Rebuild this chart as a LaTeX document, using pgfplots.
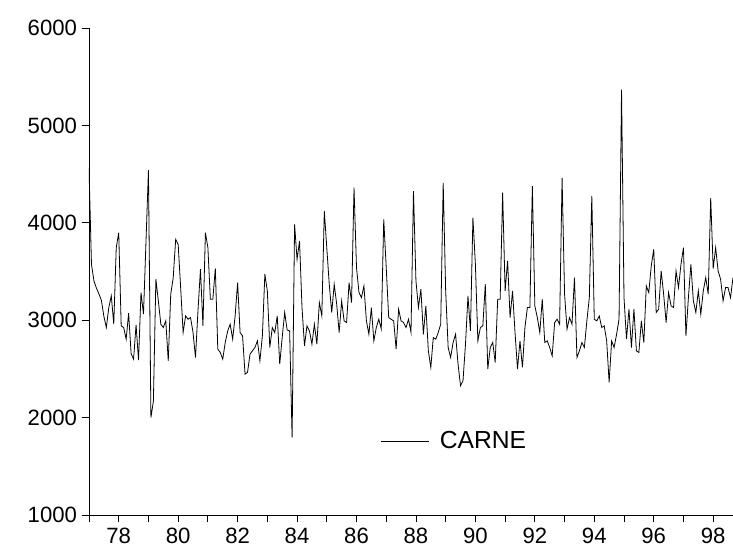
\documentclass[border=0pt]{standalone}
\usepackage{pgfplots}
\pgfplotsset{compat=1.18}
\usepackage{pgfplotstable}
\usepackage{fontspec}
\setmainfont{Liberation Sans}

% Monthly series CARNE, 1977:01 onwards
\pgfplotstableread{
v
4565
3574
3403
3330
3270
3205
3040
2925
3130
3250
2960
3745
3899
2942
2925
2805
3072
2658
2600
2952
2590
3284
3062
3800
4540
2000
2170
3420
3198
2959
2925
2993
2583
3267
3437
3830
3779
3335
2874
3044
3010
3027
2874
2617
3096
3523
2942
3899
3745
3215
3215
3533
2703
2669
2600
2771
2890
2959
2805
3044
3386
2874
2839
2446
2464
2651
2686
2720
2788
2583
2839
3472
3301
2720
2925
2874
3044
2549
2822
3079
2900
2890
1797
3984
3625
3813
3130
2737
2942
2890
2754
2959
2754
3181
3044
4121
3745
3369
3079
3369
3164
2874
3198
2993
2976
3386
3181
4360
3540
3284
3232
3352
2993
2856
3130
2788
2925
3010
2908
4035
3540
3027
3010
2993
2703
3113
2993
2976
2925
3010
2874
4326
3403
3130
3318
2856
3147
2686
2515
2822
2805
2874
2959
4411
3300
2720
2617
2771
2856
2549
2327
2378
2754
3249
2890
4052
3574
2788
2925
2942
3369
2498
2720
2771
2566
3215
3215
4309
3301
3608
3027
3301
2874
2498
2788
2515
2925
3130
3130
4377
3147
3027
2874
3215
2771
2788
2720
2634
2976
3010
2959
4462
3267
2908
3027
2959
3437
2617
2686
2771
2720
2993
3232
4275
3010
2993
3044
2925
2942
2788
2361
2788
2720
2856
3010
5368
3232
2805
3113
2720
3113
2686
2669
2993
2771
3352
3284
3557
3728
3079
3113
3506
3267
2976
3284
3147
3130
3506
3335
3574
3745
2839
3232
3574
3198
3079
3301
3062
3301
3437
3267
4257
3530
3745
3506
3420
3198
3335
3335
3232
3437
}\carne

\begin{document}
\begin{tikzpicture}
\begin{axis}[
  at={(0pt,0pt)}, anchor=south west,
  scale only axis, width=483pt, height=365.25pt,
  xmin=77, xmax=98.6667, ymin=1000, ymax=6000,
  axis x line=bottom, axis y line=left,
  axis line style={-, line width=0.6pt},
  tick align=outside,
  xtick={78,80,...,98}, minor xtick={77,79,...,97},
  ytick={1000,2000,...,6000},
  major tick length=5.5pt, minor tick length=5.5pt,
  tick style={black, line width=0.6pt},
  /pgf/number format/.cd, 1000 sep={}, assume math mode=true,
  /pgfplots/.cd,
  ticklabel style={font=\fontsize{16.6}{20}\selectfont},
  xticklabel style={yshift=-1pt},
  legend style={draw=none, fill=none, at={(0.452,0.152)}, anchor=west,
    font=\fontsize{18.5}{22}\selectfont, inner sep=0pt,
    /tikz/every odd column/.append style={column sep=6pt}},
  legend image code/.code={\draw[line width=0.6pt] (0pt,0pt) -- (36pt,0pt);},
]
\addplot[black, line width=0.6pt, mark=none]
  table[x expr=77+\coordindex/12, y=v] {\carne};
\addlegendentry{CARNE}
\end{axis}
\pgfresetboundingbox
\path (-66.75pt,-27pt) rectangle (483pt,386.25pt);
\end{tikzpicture}
\end{document}
